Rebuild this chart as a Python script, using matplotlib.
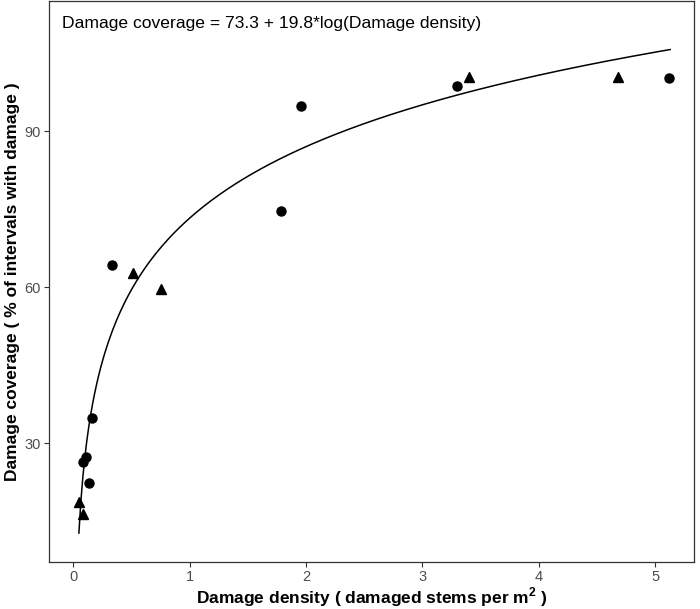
import numpy as np
import matplotlib.pyplot as plt

plt.rcParams['font.family'] = ['Liberation Sans', 'DejaVu Sans']
plt.rcParams['mathtext.fontset'] = 'custom'
plt.rcParams['mathtext.rm'] = 'Liberation Sans:bold'
plt.rcParams['mathtext.bf'] = 'Liberation Sans:bold'

# observed points, two groups (circles / triangles)
circle_x = [0.083, 0.11, 0.13, 0.16, 0.335, 1.78, 1.96, 3.30, 5.12]
circle_y = [26.4, 27.4, 22.3, 34.8, 64.3, 74.6, 94.9, 98.7, 100.2]
tri_x = [0.046, 0.08, 0.51, 0.75, 3.40, 4.68]
tri_y = [18.8, 16.4, 62.7, 59.6, 100.4, 100.4]

# fitted model: coverage = a + b*log(density)
a, b = 73.3, 19.8
fit_x = np.linspace(0.047, 5.13, 300)
fit_y = a + b * np.log(fit_x)

fig = plt.figure(figsize=(7, 6.09), dpi=100)
ax = fig.add_axes([49 / 700, 47 / 609, 644.5 / 700, 561 / 609])

ax.plot(fit_x, fit_y, color='black', lw=1.1, zorder=2)
ax.plot(circle_x, circle_y, 'o', color='black', ms=6.5, zorder=3)
ax.plot(tri_x, tri_y, '^', color='black', ms=7, zorder=3)

ax.text(-0.1, 110.6, 'Damage coverage = 73.3 + 19.8*log(Damage density)',
        fontsize=12.6, ha='left', va='center')

ax.set_xlim(-0.21, 5.33)
ax.set_ylim(7.2, 115.0)
ax.set_xticks([0, 1, 2, 3, 4, 5])
ax.set_yticks([30, 60, 90])

for s in ax.spines.values():
    s.set_color('#333333')
    s.set_linewidth(0.9)
ax.tick_params(colors='#333333', labelcolor='#4D4D4D', labelsize=10.5,
               length=3.5, width=0.8, pad=2.5)

ax.set_xlabel('Damage density ( damaged stems per m$^{2}$ )',
              fontsize=12.5, fontweight='bold', labelpad=0.5)
ax.set_ylabel('Damage coverage ( % of intervals with damage )',
              fontsize=12.5, fontweight='bold', labelpad=3)

fig.savefig('out.png', dpi=100)
